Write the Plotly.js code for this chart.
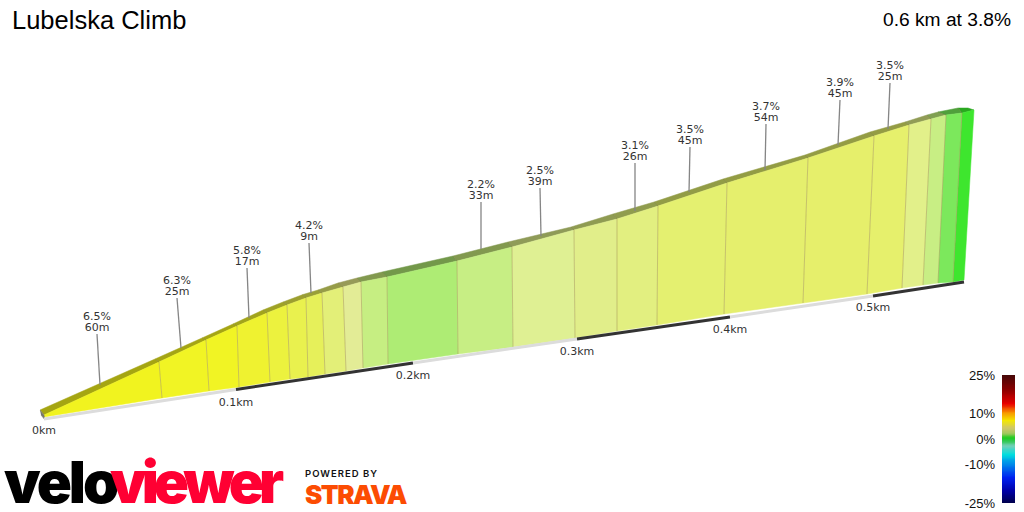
<!DOCTYPE html>
<html><head><meta charset="utf-8">
<script src="https://cdn.plot.ly/plotly-3.0.1.min.js"></script>
<style>html,body{margin:0;padding:0;background:#fff}#c{width:1024px;height:512px}</style>
</head><body><div id="c"></div>
<script>
// Profile, in the picture's projected plane
const wallTopX  = [44,159,206,237,267,287,306,322,343,361,387,457,512,574,617,658,727,808,874,909,931,946,962,974];
const wallTopY  = [415,362,340,326,313,305,298,293,287,282,277,261,247,230,219,206,183,158,136,125,119,115,113,110];
const wallFootX = [44,162,209,239,270,290,308,325,346,363,388,458,513,575,617,657,724,803,867,902,923,938,953,964];
const wallFootY = [417,398,391,387,382,379,377,374,371,368,364,354,347,338,331,325,314,303,294,288,285,283,282,280];
const ridgeX    = [40,155,202,233,263,283,303,318,338,357,382,453,508,571,613,654,723,805,870,905,927,938,958,968];
const ridgeY    = [410,359,338,324,310,302,294.5,290,283,278,272,256,242,227,214,202,179,155,132,122,115,112,108,108];
const wallColors = ['#f1f31f','#f1f424','#f1f424','#eff230','#ecf23e','#e9f14e','#e6f05a','#e3ef78','#e3ec96','#c6ee82','#aeec74','#c7ee84','#dff093','#e1ee8a','#e2ef80','#e4f070','#e5ef6d','#e6ef6b','#e6f06c','#e2f08a','#c8ee84','#7ce85c','#3ee62e'];
const ridgeColors = ['#a5a512','#a5a514','#a5a514','#a2a41c','#9fa226','#9c9f30','#999f38','#969c48','#979a58','#82994f','#73984a','#82994f','#8f9b58','#8f9b52','#909c4e','#929c46','#939c44','#949c44','#949c44','#919c56','#80a052','#50a03c','#2aa820'];

const kmLabels = ['0km','0.1km','0.2km','0.3km','0.4km','0.5km'];
const kmX = [44,236,413,577,730,873];
const kmY = [431,403,376,352,330,308];
const roadX = [44,236,413,577,730,873,964];
const roadY = [419,389.5,363,339,317,296,282];

const gradeLabels  = ['6.5%','6.3%','5.8%','4.2%','2.2%','2.5%','3.1%','3.5%','3.7%','3.9%','3.5%'];
const lengthLabels = ['60m','25m','17m','9m','33m','39m','26m','45m','54m','45m','25m'];
const leaderTopX = [97,177,247,309,481,540,635,690,766,840,890];
const leaderTopY = [334,298,268,243,202,188,163,147,124,100,83];
const leaderEndX = [100,181,249,311,481,541,635,689,765,838,888];
const leaderEndY = [385,348,318,293,249,236,211,192,170,145,129];

const legendGrades = [25,24,23,22,21,20,19,18,17,16,15,14,13,12,11,10,9,8,7,6,5,4,3,2,1,0,-1,-2,-3,-4,-5,-6,-7,-8,-9,-10,-11,-12,-13,-14,-15,-16,-17,-18,-19,-20,-21,-22,-23,-24,-25];
const legendTicks = [25,10,0,-10,-25];
const legendTickText = ['25%','10%','0%','-10%','-25%'];
const legendStops = [[0,'#00004a'],[0.1,'#0000a8'],[0.2,'#0020f0'],[0.33,'#00a0e8'],[0.38,'#00dede'],[0.45,'#70d0b8'],[0.49,'#30c850'],[0.51,'#20cc20'],[0.55,'#a8c860'],[0.59,'#d0c868'],[0.65,'#f4e800'],[0.71,'#f89000'],[0.78,'#e80000'],[0.88,'#900000'],[1,'#480808']];

const traces = [];
const base = {xaxis:'x',yaxis:'y',hoverinfo:'skip',showlegend:false};

for (let i=0;i<wallColors.length;i++){
  traces.push({...base,type:'scatter',mode:'lines',fill:'toself',fillcolor:ridgeColors[i],
    line:{color:ridgeColors[i],width:0.5},
    x:[ridgeX[i],ridgeX[i+1],wallTopX[i+1],wallTopX[i]],
    y:[ridgeY[i],ridgeY[i+1],wallTopY[i+1],wallTopY[i]]});
  traces.push({...base,type:'scatter',mode:'lines',fill:'toself',fillcolor:wallColors[i],
    line:{color:wallColors[i],width:0.5},
    x:[wallTopX[i],wallTopX[i+1],wallFootX[i+1],wallFootX[i]],
    y:[wallTopY[i],wallTopY[i+1],wallFootY[i+1],wallFootY[i]]});
}
for (let i=1;i<wallTopX.length-1;i++){
  traces.push({...base,type:'scatter',mode:'lines',line:{color:'rgba(170,155,90,0.55)',width:1},
    x:[wallTopX[i],wallFootX[i]],y:[wallTopY[i],wallFootY[i]]});
  traces.push({...base,type:'scatter',mode:'lines',line:{color:'rgba(110,110,50,0.35)',width:1},
    x:[ridgeX[i],wallTopX[i]],y:[ridgeY[i],wallTopY[i]]});
}
traces.push({...base,type:'scatter',mode:'lines',fill:'toself',fillcolor:'#77776a',line:{color:'#77776a',width:0.5},
  x:[ridgeX[0],wallTopX[0],wallFootX[0]+1,ridgeX[0]+1],y:[ridgeY[0],wallTopY[0],wallFootY[0]+3,ridgeY[0]+5]});
for (let i=0;i<roadX.length-1;i++){
  traces.push({...base,type:'scatter',mode:'lines',line:{color:i%2?'#333333':'#dcdcdc',width:3},
    x:[roadX[i],roadX[i+1]],y:[roadY[i],roadY[i+1]]});
}
for (let i=0;i<gradeLabels.length;i++){
  traces.push({...base,type:'scatter',mode:'lines',line:{color:'#858585',width:1.3},
    x:[leaderTopX[i],leaderEndX[i]],y:[leaderTopY[i],leaderEndY[i]]});
}
const labelFont={family:'"DejaVu Sans",sans-serif',size:11,color:'#333'};
traces.push({...base,type:'scatter',mode:'text',x:leaderTopX,y:leaderTopY.map(v=>v-17),text:gradeLabels,textfont:labelFont,textposition:'middle center',cliponaxis:false});
traces.push({...base,type:'scatter',mode:'text',x:leaderTopX,y:leaderTopY.map(v=>v-6),text:lengthLabels,textfont:labelFont,textposition:'middle center',cliponaxis:false});
traces.push({...base,type:'scatter',mode:'text',x:kmX,y:kmY,text:kmLabels,textfont:labelFont,textposition:'middle center',cliponaxis:false});
traces.push({type:'heatmap',xaxis:'x2',yaxis:'y2',x:[0],y:legendGrades,z:legendGrades.map(v=>[v]),
  zmin:-25,zmax:25,colorscale:legendStops,showscale:false,hoverinfo:'skip',zsmooth:'best'});

const layout={
  width:1024,height:512,margin:{l:0,r:0,t:0,b:0},paper_bgcolor:'#fff',plot_bgcolor:'rgba(0,0,0,0)',
  showlegend:false,
  title:{text:'Lubelska Climb',x:12/1024,xanchor:'left',xref:'paper',y:1-20/512,yanchor:'middle',yref:'paper',
    font:{family:'"Liberation Sans",Arial,sans-serif',size:25.5,color:'#000'},pad:{t:0,l:0,r:0,b:0}},
  xaxis:{domain:[0,1],range:[0,1024],visible:false,fixedrange:true},
  yaxis:{domain:[0,1],range:[512,0],visible:false,fixedrange:true},
  xaxis2:{domain:[1002/1024,1015/1024],anchor:'y2',visible:false,fixedrange:true},
  yaxis2:{domain:[9/512,137/512],anchor:'x2',range:[-25,25],tickmode:'array',tickvals:legendTicks,ticktext:legendTickText,
    showgrid:false,zeroline:false,showline:false,ticks:'',side:'left',ticklabelstandoff:6,
    tickfont:{family:'"Liberation Sans",Arial,sans-serif',size:13,color:'#111'},fixedrange:true},
  annotations:[
    {xref:'paper',yref:'paper',x:1013/1024,y:1-19/512,xanchor:'right',yanchor:'middle',showarrow:false,text:'0.6 km at 3.8%',
      font:{family:'"Liberation Sans",Arial,sans-serif',size:19.2,color:'#000'}},
    {xref:'x',yref:'y',x:2,y:482,xanchor:'left',yanchor:'middle',showarrow:false,text:'<span style="letter-spacing:-3px">velo</span>',
      font:{family:'Inter,sans-serif',size:58,weight:900,color:'#000'}},
    {xref:'x',yref:'y',x:108,y:482,xanchor:'left',yanchor:'middle',showarrow:false,text:'<span style="letter-spacing:-5px">viewer</span>',
      font:{family:'Inter,sans-serif',size:58,weight:900,color:'#ff0033'}},
    {xref:'x',yref:'y',x:303,y:473,xanchor:'left',yanchor:'middle',showarrow:false,text:'<span style="letter-spacing:1px">POWERED BY</span>',
      font:{family:'Inter,sans-serif',size:9.5,weight:600,color:'#111'}},
    {xref:'x',yref:'y',x:303,y:494,xanchor:'left',yanchor:'middle',showarrow:false,text:'<span style="letter-spacing:-1.5px">STRAVA</span>',
      font:{family:'Inter,sans-serif',size:26,weight:900,color:'#fc4c02'}}
  ]
};
Plotly.newPlot('c',traces,layout,{displayModeBar:false,staticPlot:true});
</script></body></html>
